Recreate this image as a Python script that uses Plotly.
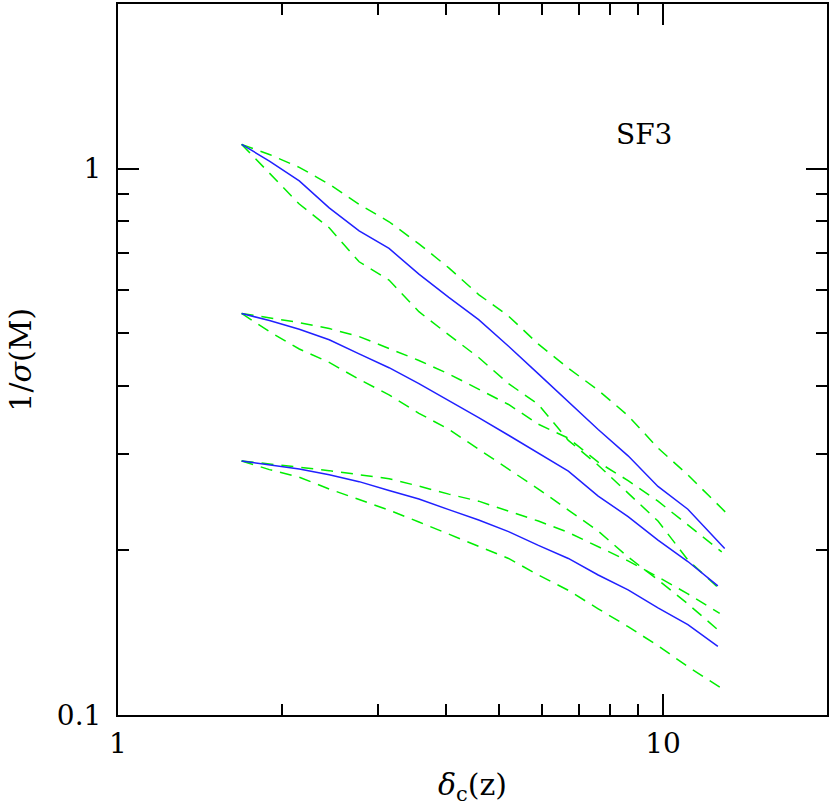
import plotly.graph_objects as go

# delta_c(z) sample points (shared grid) + last point of each curve
x_grid = [1.686, 1.896, 2.151, 2.441, 2.770, 3.143, 3.566, 4.046, 4.590,
          5.208, 5.908, 6.705, 7.606, 8.630, 9.792, 11.11]

# group 1 (top)
g1_mid = [1.107, 1.032, 0.949, 0.847, 0.769, 0.714, 0.641, 0.581, 0.529,
          0.473, 0.421, 0.375, 0.333, 0.298, 0.262, 0.238, 0.2017]
g1_hi = [1.107, 1.061, 1.005, 0.936, 0.860, 0.799, 0.728, 0.658, 0.588,
         0.537, 0.477, 0.431, 0.393, 0.353, 0.308, 0.275, 0.232]
g1_lo = [1.107, 0.982, 0.861, 0.779, 0.675, 0.625, 0.547, 0.496, 0.451,
         0.404, 0.370, 0.318, 0.2865, 0.2547, 0.2264, 0.1922, 0.1687]
g1_end = [12.98, 13.20, 12.82]

# group 2 (middle)
g2_mid = [0.543, 0.527, 0.508, 0.486, 0.458, 0.432, 0.404, 0.3765, 0.350,
          0.325, 0.301, 0.2794, 0.2515, 0.2307, 0.209, 0.1909, 0.1723]
g2_hi = [0.543, 0.5335, 0.5225, 0.5095, 0.4926, 0.4684, 0.4454, 0.4208, 0.3942,
         0.370, 0.3404, 0.3210, 0.2902, 0.2685, 0.2462, 0.2231, 0.1988]
g2_lo = [0.543, 0.503, 0.4674, 0.4417, 0.4113, 0.3853, 0.3565, 0.3333, 0.3064,
         0.2818, 0.2591, 0.2371, 0.2171, 0.1946, 0.1767, 0.1597, 0.1432]
g2_end = [12.61, 12.82, 12.61]

# group 3 (bottom)
g3_mid = [0.2917, 0.2871, 0.2818, 0.2753, 0.2673, 0.2575, 0.2484, 0.2376, 0.2274,
          0.2166, 0.2043, 0.1934, 0.1804, 0.1694, 0.1571, 0.1463, 0.1335]
g3_hi = [0.2917, 0.2883, 0.2840, 0.2800, 0.2753, 0.2706, 0.2623, 0.2536, 0.2462,
         0.2361, 0.2264, 0.2158, 0.2030, 0.1914, 0.1789, 0.1666, 0.1534]
g3_lo = [0.2917, 0.2812, 0.2724, 0.2591, 0.2479, 0.2371, 0.2255, 0.2144, 0.2034,
         0.1934, 0.1804, 0.1691, 0.1564, 0.1451, 0.1339, 0.1226, 0.1122]
g3_end = [12.61, 12.71, 12.76]

x_major = [1, 10]
x_minor = [2, 3, 4, 5, 6, 7, 8, 9, 20]
y_major = [0.1, 1]
y_minor = [0.2, 0.3, 0.4, 0.5, 0.6, 0.7, 0.8, 0.9, 2]

BLUE = "#2020ff"
GREEN = "#00ee00"
FONT = "DejaVu Serif"

fig = go.Figure()

groups = [(g1_mid, g1_hi, g1_lo, g1_end),
          (g2_mid, g2_hi, g2_lo, g2_end),
          (g3_mid, g3_hi, g3_lo, g3_end)]

for mid, hi, lo, ends in groups:
    fig.add_trace(go.Scatter(x=x_grid + [ends[1]], y=hi, mode="lines",
                             line=dict(color=GREEN, width=1.5, dash="12px,8px")))
    fig.add_trace(go.Scatter(x=x_grid + [ends[2]], y=lo, mode="lines",
                             line=dict(color=GREEN, width=1.5, dash="12px,8px")))
    fig.add_trace(go.Scatter(x=x_grid + [ends[0]], y=mid, mode="lines",
                             line=dict(color=BLUE, width=1.5)))

fig.add_annotation(text="SF3", x=0.742, y=0.816, xref="paper", yref="paper",
                   xanchor="center", yanchor="middle", showarrow=False,
                   font=dict(family=FONT, size=28, color="black"))

# axis titles as annotations so the plot frame stays put
fig.add_annotation(text="<i>δ</i><sub>c</sub>(z)", x=0.5, y=-0.1,
                   xref="paper", yref="paper", showarrow=False,
                   xanchor="center", yanchor="middle",
                   font=dict(family=FONT, size=30, color="black"))
fig.add_annotation(text="1/<i>σ</i>(M)", x=-0.138, y=0.5, textangle=-90,
                   xref="paper", yref="paper", showarrow=False,
                   xanchor="center", yanchor="middle",
                   font=dict(family=FONT, size=30, color="black"))

fig.update_layout(
    width=830, height=807,
    margin=dict(l=118, r=3, t=4, b=92),
    plot_bgcolor="white", paper_bgcolor="white",
    showlegend=False,
    font=dict(family=FONT, size=28, color="black"),
)

fig.update_xaxes(
    type="log", range=[0, 1.30103], automargin=False,
    showgrid=False, zeroline=False,
    showline=True, linecolor="black", linewidth=2, mirror="allticks",
    ticks="inside", ticklen=21, tickwidth=1.5, tickcolor="black",
    tickvals=x_major, ticktext=["1", "10"], ticklabelstandoff=2,
    minor=dict(tickvals=x_minor, ticks="inside", ticklen=11, tickwidth=1.5,
               tickcolor="black", showgrid=False),
)

fig.update_yaxes(
    type="log", range=[-1, 0.30103], automargin=False,
    showgrid=False, zeroline=False,
    showline=True, linecolor="black", linewidth=2, mirror="allticks",
    ticks="inside", ticklen=21, tickwidth=1.5, tickcolor="black",
    tickvals=y_major, ticktext=["0.1", "1"], ticklabelstandoff=9,
    minor=dict(tickvals=y_minor, ticks="inside", ticklen=11, tickwidth=1.5,
               tickcolor="black", showgrid=False),
)

# drop the browser's default body margin so the figure sits at the page corner
fig.write_html("out.html", config={"displayModeBar": False},
               post_script="document.body.style.margin='0';")
